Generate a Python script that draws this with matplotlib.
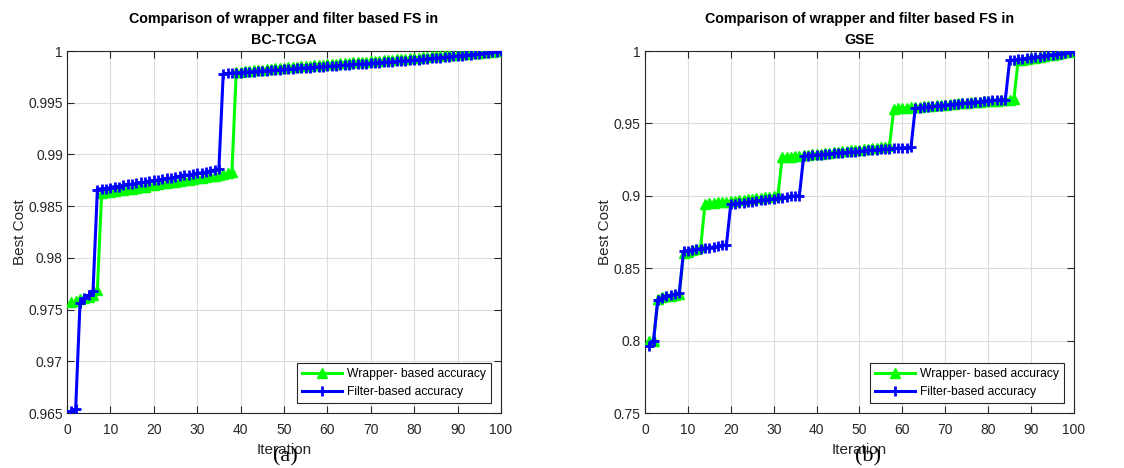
import matplotlib.pyplot as plt

# ---------------------------------------------------------------- data
iters = list(range(1, 101))

# (a) BC-TCGA
wrapper_a = [0.9757, 0.9758, 0.9760, 0.9761, 0.9762, 0.9764, 0.9769,
             0.9863, 0.9864, 0.9864, 0.9865, 0.9866, 0.9866, 0.9867, 0.9867, 0.9868, 0.9869,
             0.9869, 0.9870, 0.9870, 0.9871, 0.9872, 0.9872, 0.9873, 0.9873, 0.9874, 0.9875,
             0.9875, 0.9876, 0.9877, 0.9877, 0.9878, 0.9879, 0.9879, 0.9880, 0.9881, 0.9882, 0.9883,
             0.99795, 0.99800, 0.99805, 0.99808, 0.99812, 0.99815, 0.99820, 0.99824, 0.99828, 0.99831,
             0.99835, 0.99838, 0.99842, 0.99845, 0.99849, 0.99852, 0.99855, 0.99858, 0.99862, 0.99865,
             0.99868, 0.99871, 0.99874, 0.99877, 0.99880, 0.99883, 0.99886, 0.99889, 0.99892, 0.99895,
             0.99898, 0.99901, 0.99904, 0.99907, 0.99910, 0.99913, 0.99916, 0.99919, 0.99922, 0.99925,
             0.99928, 0.99931, 0.99935, 0.99939, 0.99943, 0.99947, 0.99951, 0.99955, 0.99959, 0.99962,
             0.99965, 0.99968, 0.99971, 0.99974, 0.99977, 0.99980, 0.99983, 0.99986, 0.99989, 0.99992,
             0.99996, 1.00000]

filter_a = [0.9652, 0.9654, 0.9756, 0.9761, 0.9764, 0.9768,
            0.9866, 0.9867, 0.9867, 0.9868, 0.9869, 0.9869, 0.9870, 0.9871, 0.9871, 0.9872,
            0.9873, 0.9873, 0.9874, 0.9875, 0.9875, 0.9876, 0.9877, 0.9877, 0.9878, 0.9879,
            0.9880, 0.9880, 0.9881, 0.9882, 0.9882, 0.9883, 0.9884, 0.9885, 0.9886,
            0.99780, 0.99783, 0.99786, 0.99789, 0.99792, 0.99795, 0.99798, 0.99801, 0.99804, 0.99807,
            0.99810, 0.99813, 0.99816, 0.99819, 0.99822, 0.99825, 0.99828, 0.99831, 0.99834, 0.99837,
            0.99840, 0.99843, 0.99846, 0.99849, 0.99852, 0.99855, 0.99858, 0.99861, 0.99864, 0.99867,
            0.99870, 0.99873, 0.99876, 0.99879, 0.99882, 0.99885, 0.99888, 0.99891, 0.99894, 0.99897,
            0.99900, 0.99903, 0.99906, 0.99909, 0.99912, 0.99916, 0.99920, 0.99924, 0.99928, 0.99932,
            0.99936, 0.99940, 0.99944, 0.99948, 0.99952, 0.99956, 0.99960, 0.99964, 0.99968, 0.99972,
            0.99976, 0.99981, 0.99986, 0.99992, 1.00000]

# (b) GSE
wrapper_b = [0.7995, 0.8000,
             0.8285, 0.8298, 0.8305, 0.8310, 0.8315, 0.8320,
             0.8605, 0.8615, 0.8625, 0.8635, 0.8648,
             0.8945, 0.8948, 0.8951, 0.8954, 0.8957, 0.8960, 0.8963, 0.8966, 0.8970, 0.8973,
             0.8976, 0.8979, 0.8982, 0.8985, 0.8989, 0.8993, 0.8998, 0.9005,
             0.9265, 0.9268, 0.9271, 0.9274, 0.9277, 0.9280, 0.9283, 0.9286, 0.9289, 0.9292,
             0.9295, 0.9298, 0.9301, 0.9304, 0.9307, 0.9310, 0.9313, 0.9316, 0.9319, 0.9322,
             0.9325, 0.9328, 0.9331, 0.9335, 0.9339, 0.9345,
             0.9600, 0.9603, 0.9605, 0.9608, 0.9610, 0.9613, 0.9615, 0.9618, 0.9620, 0.9623,
             0.9625, 0.9628, 0.9630, 0.9633, 0.9635, 0.9638, 0.9640, 0.9643, 0.9645, 0.9648,
             0.9650, 0.9652, 0.9654, 0.9656, 0.9658, 0.9660, 0.9662, 0.9665, 0.9670,
             0.9935, 0.9940, 0.9945, 0.9950, 0.9955, 0.9960, 0.9965, 0.9970, 0.9975, 0.9980,
             0.9985, 0.9990, 0.9995, 1.0000]

filter_b = [0.7963, 0.8000,
            0.8283, 0.8295, 0.8305, 0.8312, 0.8320, 0.8328,
            0.8618, 0.8622, 0.8626, 0.8630, 0.8634, 0.8638, 0.8642, 0.8647, 0.8652, 0.8657, 0.8662,
            0.8942, 0.8945, 0.8948, 0.8952, 0.8956, 0.8960, 0.8964, 0.8968, 0.8972, 0.8976,
            0.8980, 0.8984, 0.8988, 0.8992, 0.8996, 0.8999, 0.9002,
            0.9275, 0.9278, 0.9280, 0.9283, 0.9285, 0.9288, 0.9290, 0.9293, 0.9295, 0.9298,
            0.9300, 0.9303, 0.9305, 0.9308, 0.9310, 0.9313, 0.9315, 0.9318, 0.9320, 0.9323,
            0.9325, 0.9327, 0.9329, 0.9331, 0.9333, 0.9335,
            0.9605, 0.9608, 0.9611, 0.9614, 0.9617, 0.9620, 0.9623, 0.9626, 0.9629, 0.9632,
            0.9635, 0.9638, 0.9641, 0.9644, 0.9647, 0.9650, 0.9653, 0.9656, 0.9659, 0.9661,
            0.9662, 0.9663,
            0.9935, 0.9938, 0.9942, 0.9946, 0.9950, 0.9954, 0.9958, 0.9962, 0.9966, 0.9970,
            0.9974, 0.9978, 0.9982, 0.9986, 0.9993, 1.0000]

xticks = [0, 10, 20, 30, 40, 50, 60, 70, 80, 90, 100]
yticks_a = [0.965, 0.97, 0.975, 0.98, 0.985, 0.99, 0.995, 1.0]
ylabels_a = ['0.965', '0.97', '0.975', '0.98', '0.985', '0.99', '0.995', '1']
yticks_b = [0.75, 0.8, 0.85, 0.9, 0.95, 1.0]
ylabels_b = ['0.75', '0.8', '0.85', '0.9', '0.95', '1']

titles = ['Comparison of wrapper and filter based FS in\nBC-TCGA',
          'Comparison of wrapper and filter based FS in\nGSE']
tags = ['(a)', '(b)']
tag_x = [0.503, 0.52]

plt.rcParams['font.family'] = ['Liberation Sans', 'DejaVu Sans']
txt = '#262626'

fig = plt.figure(figsize=(11.24, 4.68), dpi=100)
ax1 = fig.add_axes([0.0596, 0.1175, 0.3861, 0.7735])
ax2 = fig.add_axes([0.5738, 0.1175, 0.3817, 0.7735])

panels = [(ax1, wrapper_a, filter_a, yticks_a, ylabels_a),
          (ax2, wrapper_b, filter_b, yticks_b, ylabels_b)]

for i, (ax, w, f, yt, yl) in enumerate(panels):
    ax.plot(iters, w, color=(0, 1, 0), lw=2.2, marker='^', markersize=7.5,
            markerfacecolor=(0, 1, 0), markeredgecolor=(0, 1, 0),
            label='Wrapper- based accuracy', zorder=3)
    ax.plot(iters, f, color=(0, 0, 1), lw=2.2, marker='+', markersize=7.5,
            markeredgewidth=2, label='Filter-based accuracy', zorder=4)

    ax.set_xlim(0, 100)
    ax.set_ylim(yt[0], yt[-1])
    ax.set_xticks(xticks)
    ax.set_yticks(yt)
    ax.set_yticklabels(yl)
    ax.grid(True, color='#dcdcdc', lw=0.8)
    ax.set_axisbelow(True)
    ax.tick_params(direction='in', top=True, right=True, length=5,
                   labelsize=10, colors=txt, width=0.8)
    ax.tick_params(axis='x', pad=7.5)
    ax.tick_params(axis='y', pad=3)
    for s in ax.spines.values():
        s.set_color(txt)
        s.set_linewidth(0.8)

    ax.set_xlabel('Iteration', fontsize=11, color=txt, labelpad=4)
    ax.set_ylabel('Best Cost', fontsize=11, color=txt, labelpad=1)
    ax.set_title(titles[i], fontsize=10.3, fontweight='bold', color='black',
                 pad=5, linespacing=1.65)

    leg = ax.legend(loc='lower right', fontsize=8.7, handlelength=3.3,
                    fancybox=False, framealpha=1, borderaxespad=0.85,
                    handletextpad=0.4, labelspacing=0.5)
    leg.get_frame().set_edgecolor(txt)
    leg.get_frame().set_linewidth(0.8)

    ax.text(tag_x[i], -0.1215, tags[i], transform=ax.transAxes, ha='center',
            va='center', fontsize=16, family='Liberation Serif', color='black')

fig.savefig('out.png', dpi=100)
